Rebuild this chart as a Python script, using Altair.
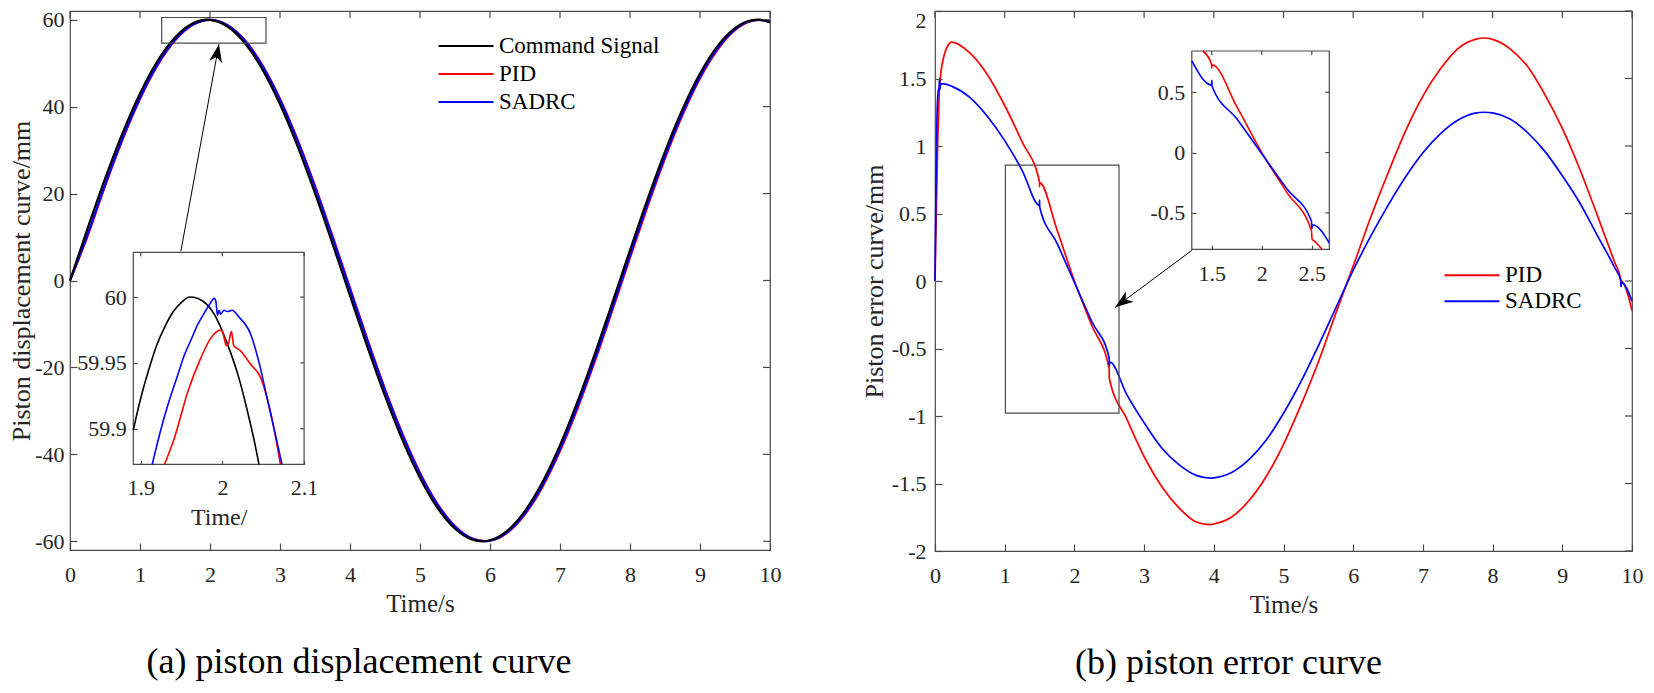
import altair as alt
import pandas as pd

FONT = "Liberation Serif"
INK = "#262626"
FRAME = "#4a4a4a"

# ---------------- (a) piston displacement : main view ----------------
SERIES_A = ["Command Signal", "PID", "SADRC"]
COLORS_A = ["#000000", "#ff0000", "#0000ff"]

CMD_T = [0, 0.25, 0.5, 0.75, 1.0, 1.25, 1.5, 1.75, 1.96, 2.0, 2.25, 2.5, 2.75, 3.0, 3.25, 3.5, 3.75, 4.0,
         4.25, 4.5, 4.75, 5.0, 5.25, 5.5, 5.75, 5.89, 6.0, 6.25, 6.5, 6.75, 7.0, 7.25, 7.5, 7.75, 8.0, 8.25,
         8.5, 8.75, 9.0, 9.25, 9.5, 9.75, 9.82, 10.0]
CMD_V = [0, 11.92, 23.37, 33.88, 43.04, 50.49, 55.92, 59.13, 60.0, 59.97, 58.43, 54.56, 48.51, 40.53, 30.93,
         20.10, 8.47, -3.50, -15.33, -26.55, -36.71, -45.41, -52.29, -57.10, -59.62, -60.0, -59.77, -57.54,
         -53.01, -46.37, -37.88, -27.88, -16.77, -4.99, 6.99, 18.69, 29.65, 39.42, 47.62, 53.92, 58.08, 59.91,
         60.0, 59.36]

PIDA_T = [0, 0.25, 0.5, 0.75, 1.0, 1.25, 1.5, 1.75, 2.0, 2.25, 2.5, 2.75, 3.0, 3.25, 3.5, 3.75, 4.0, 4.25,
          4.5, 4.75, 5.0, 5.25, 5.5, 5.75, 5.93, 6.0, 6.25, 6.5, 6.75, 7.0, 7.25, 7.5, 7.75, 8.0, 8.25, 8.5,
          8.75, 9.0, 9.25, 9.5, 9.75, 9.86, 10.0]
PIDA_V = [0, 10.15, 21.68, 32.35, 41.74, 49.46, 55.19, 58.75, 59.97, 58.76, 55.28, 49.53, 41.83, 32.45,
          21.78, 10.25, -1.70, -13.58, -24.92, -35.26, -44.20, -51.37, -56.50, -59.38, -59.96, -59.88,
          -58.01, -53.81, -47.48, -39.25, -29.45, -18.49, -6.78, 5.20, 16.97, 28.06, 38.04, 46.49, 53.09,
          57.59, 59.77, 59.96, 59.58]

SADA_T = [0, 0.25, 0.5, 0.75, 1.0, 1.25, 1.5, 1.75, 2.0, 2.25, 2.5, 2.75, 3.0, 3.25, 3.5, 3.75, 4.0, 4.25,
          4.5, 4.75, 5.0, 5.25, 5.5, 5.75, 5.92, 6.0, 6.25, 6.5, 6.75, 7.0, 7.25, 7.5, 7.75, 8.0, 8.25, 8.5,
          8.75, 9.0, 9.25, 9.5, 9.75, 9.85, 10.0]
SADA_V = [0, 10.48, 22.01, 32.66, 42.00, 49.67, 55.36, 58.85, 59.98, 58.73, 55.14, 49.34, 41.58, 32.17,
          21.46, 9.91, -2.04, -13.91, -25.22, -35.53, -44.43, -51.54, -56.62, -59.42, -59.98, -59.85,
          -57.87, -53.57, -47.14, -38.83, -28.97, -17.96, -6.23, 5.74, 17.49, 28.55, 38.46, 46.84, 53.34,
          57.74, 59.81, 59.98, 59.51]

# ---------------- (a) zoomed inset ----------------
ZA_CMD_T = [1.891, 1.90, 1.91, 1.92, 1.93, 1.94, 1.95, 1.96, 1.97, 1.98, 1.99, 2.00, 2.01, 2.02, 2.03, 2.04, 2.0448]
ZA_CMD_V = [59.899, 59.923, 59.945, 59.964, 59.978, 59.989, 59.996, 60.0, 59.999, 59.995, 59.987, 59.974,
            59.958, 59.939, 59.915, 59.888, 59.873]
ZA_PID_T = [1.9292, 1.9413, 1.9576, 1.9738, 1.986, 1.998, 2.001, 2.005, 2.008, 2.011, 2.014, 2.018, 2.0224,
            2.0345, 2.0467, 2.0588, 2.071]
ZA_PID_V = [59.873, 59.893, 59.928, 59.954, 59.969, 59.975, 59.972, 59.963, 59.966, 59.974, 59.963, 59.961,
            59.959, 59.949, 59.939, 59.913, 59.873]
ZA_SAD_T = [1.9142, 1.925, 1.9333, 1.945, 1.9535, 1.962, 1.9697, 1.978, 1.985, 1.99, 1.992, 1.994, 1.996,
            1.998, 2.002, 2.006, 2.012, 2.02, 2.0345, 2.045, 2.0548, 2.064, 2.073]
ZA_SAD_V = [59.873, 59.90, 59.918, 59.94, 59.956, 59.968, 59.979, 59.988, 59.995, 59.999, 59.997, 59.986,
            59.99, 59.987, 59.99, 59.989, 59.99, 59.985, 59.972, 59.95, 59.923, 59.898, 59.873]

# ---------------- (b) piston error : main view ----------------
SERIES_B = ["PID", "SADRC"]
COLORS_B = ["#ff0000", "#0000ff"]

PIDB_T = [0, 0.02, 0.04, 0.06, 0.08, 0.12, 0.17, 0.24, 0.5, 0.75, 1.0, 1.25, 1.499, 1.5, 1.501, 1.75, 2.0,
          2.25, 2.499, 2.501, 2.75, 3.0, 3.25, 3.5, 3.75, 3.95, 4.0, 4.25, 4.5, 4.75, 5.0, 5.25, 5.5, 5.75,
          6.0, 6.25, 6.5, 6.75, 7.0, 7.25, 7.5, 7.75, 7.88, 8.0, 8.25, 8.5, 8.75, 9.0, 9.25, 9.5, 9.75, 9.84,
          9.843, 9.846, 10.0]
PIDB_V = [0, 0.55, 1.05, 1.38, 1.52, 1.65, 1.73, 1.77, 1.69, 1.53, 1.30, 1.03, 0.735, 0.70, 0.728, 0.38,
          0.0, -0.33, -0.65, -0.72, -1.02, -1.30, -1.52, -1.68, -1.785, -1.805, -1.80, -1.75, -1.63, -1.45,
          -1.21, -0.92, -0.60, -0.24, 0.11, 0.47, 0.80, 1.11, 1.37, 1.57, 1.72, 1.79, 1.80, 1.79, 1.72, 1.59,
          1.38, 1.13, 0.83, 0.49, 0.14, 0.01, -0.04, 0.0, -0.22]

SADB_T = [0, 0.01, 0.02, 0.03, 0.045, 0.06, 0.065, 0.07, 0.08, 0.12, 0.25, 0.5, 0.75, 1.0, 1.25, 1.499,
          1.5, 1.501, 1.75, 2.0, 2.25, 2.499, 2.5, 2.51, 2.75, 3.0, 3.25, 3.5, 3.75, 3.95, 4.0, 4.25, 4.5,
          4.75, 5.0, 5.25, 5.5, 5.75, 6.0, 6.25, 6.5, 6.75, 7.0, 7.25, 7.5, 7.75, 7.88, 8.0, 8.25, 8.5, 8.75,
          9.0, 9.25, 9.5, 9.75, 9.84, 9.843, 9.846, 10.0]
SADB_V = [0, 0.5, 0.95, 1.25, 1.40, 1.44, 1.50, 1.42, 1.46, 1.46, 1.44, 1.36, 1.22, 1.04, 0.82, 0.56,
          0.60, 0.55, 0.28, -0.01, -0.30, -0.57, -0.63, -0.60, -0.84, -1.05, -1.235, -1.36, -1.44, -1.46,
          -1.458, -1.42, -1.325, -1.18, -0.98, -0.745, -0.48, -0.20, 0.08, 0.33, 0.56, 0.77, 0.95, 1.09,
          1.19, 1.243, 1.25, 1.245, 1.20, 1.10, 0.96, 0.78, 0.58, 0.34, 0.10, 0.0, -0.04, -0.01, -0.15]

# ---------------- (b) zoomed inset ----------------
ZB_PID_T = [1.41, 1.497, 1.5, 1.503, 1.75, 2.0, 2.25, 2.497, 2.503, 2.52, 2.60]
ZB_PID_V = [0.842, 0.735, 0.70, 0.728, 0.38, 0.0, -0.33, -0.65, -0.72, -0.73, -0.80]
ZB_SAD_T = [1.30, 1.497, 1.5, 1.503, 1.75, 2.0, 2.25, 2.497, 2.50, 2.51, 2.675]
ZB_SAD_V = [0.76, 0.56, 0.60, 0.55, 0.28, -0.01, -0.30, -0.57, -0.63, -0.60, -0.75]

# ---------------- axes ticks / annotation geometry (data units) ----------------
XTICKS = list(range(0, 11))
YTICKS_A = [-60, -40, -20, 0, 20, 40, 60]
YTICKS_B = [-2, -1.5, -1, -0.5, 0, 0.5, 1, 1.5, 2]
ZA_XTICKS = [1.9, 2.0, 2.1]
ZA_YTICKS = [59.9, 59.95, 60]
ZB_XTICKS = [1.5, 2.0, 2.5]
ZB_YTICKS = [-0.5, 0, 0.5]

XDOM = [0, 10]
YDOM_A = [-62, 62]
YDOM_B = [-2, 2]
ZA_XDOM = [1.891, 2.1]
ZA_YDOM = [59.873, 60.034]
ZB_XDOM = [1.3, 2.675]
ZB_YDOM = [-0.802, 0.842]

BOX_A = {"x1": [1.31], "x2": [2.80], "y1": [54.6], "y2": [60.5]}
BOX_B = {"x1": [1.01], "x2": [2.64], "y1": [-0.978], "y2": [0.859]}
ARROW_A = {"x1": [1.584], "y1": [6.76], "x2": [2.128], "y2": [54.34]}
ARROW_B = {"x1": [3.685], "y1": [0.227], "x2": [2.586], "y2": [-0.195]}
ANGLE_A = 10.5
ANGLE_B = 233.5

# ---------------- layout (pixels) ----------------
WA, HA = 700, 539
WB, HB = 697, 540
TICK = 7
ITICK = 4
IA_XR = [63.3, 234.1]
IA_YR = [453.3, 241.3]
IB_XR = [256.8, 394.3]
IB_YR = [238.3, 40.0]

HEAD = "M0,0L0.65,1.8L0,1.3L-0.65,1.8Z"
LEG_SYM = "M-5.5,0L5.5,0"
LBL = "'' + datum.value"


def series_df(t, v, name):
    return pd.DataFrame({"t": t, "v": v, "s": name})


def legend(x, y, rowpad):
    return alt.Legend(title=None, orient="none", legendX=x, legendY=y, symbolType=LEG_SYM,
                      symbolSize=100, symbolStrokeWidth=2, labelFont=FONT, labelFontSize=23,
                      labelColor="black", labelOffset=21.5, padding=0, rowPadding=rowpad, labelLimit=0)


def panel(W, H, xdom, ydom, yticks, ytitle, ylabpad, ytpad, ylaboff, lines, series, colors, leg,
          box, arrow, angle, ixdom, iydom, ixr, iyr, ixticks, iyticks, ixtitle, ilines, ilabpad, lw, ilw):
    sx = alt.Scale(domain=xdom, nice=False, zero=False)
    sy = alt.Scale(domain=ydom, nice=False, zero=False)
    cs = alt.Scale(domain=series, range=colors)
    xaxis = alt.Axis(values=XTICKS, title="Time/s", offset=-TICK, tickSize=TICK, labelPadding=14,
                     titlePadding=6, labelFontSize=22, titleFontSize=25, labelExpr=LBL,
                     labelFlush=False, labelOverlap=False, zindex=1, orient="bottom")
    yargs = dict(values=yticks, title=ytitle, offset=-TICK, tickSize=TICK, labelPadding=ylabpad,
                 titlePadding=ytpad, labelFontSize=22, titleFontSize=26, labelExpr=LBL,
                 labelFlush=False, labelOverlap=False, zindex=1, orient="left")
    if ylaboff is not None:
        yargs["labelOffset"] = ylaboff
    yaxis = alt.Axis(**yargs)

    X = lambda f: alt.X(f, type="quantitative", scale=sx, axis=xaxis)
    Y = lambda f: alt.Y(f, type="quantitative", scale=sy, axis=yaxis)

    layers = []
    for t, v, name in lines:
        layers.append(
            alt.Chart(series_df(t, v, name)).mark_line(strokeWidth=lw, interpolate="monotone").encode(
                x=X("t"), y=Y("v"), color=alt.Color("s:N", scale=cs, legend=leg))
        )
    layers.append(
        alt.Chart(pd.DataFrame(box)).mark_rect(filled=False, color=FRAME, strokeWidth=1.2).encode(
            x=X("x1"), x2="x2", y=Y("y1"), y2="y2")
    )
    layers.append(
        alt.Chart(pd.DataFrame(arrow)).mark_rule(color="black", strokeWidth=1).encode(
            x=X("x1"), x2="x2", y=Y("y1"), y2="y2")
    )
    layers.append(
        alt.Chart(pd.DataFrame(arrow)).mark_point(shape=HEAD, filled=True, size=400, angle=angle,
                                                  color="black", opacity=1, strokeWidth=0).encode(
            x=X("x2"), y=Y("y2"))
    )
    layers.append(
        alt.Chart(pd.DataFrame({"x1": XTICKS})).mark_rule(color=FRAME, strokeWidth=1.2).encode(
            x=X("x1"), y=alt.value(0), y2=alt.value(TICK))
    )
    layers.append(
        alt.Chart(pd.DataFrame({"y1": yticks})).mark_rule(color=FRAME, strokeWidth=1.2).encode(
            y=Y("y1"), x=alt.value(W), x2=alt.value(W - TICK))
    )
    main = alt.layer(*layers)

    # inset with its own scales placed by explicit pixel ranges
    isx = alt.Scale(domain=ixdom, range=ixr, nice=False, zero=False)
    isy = alt.Scale(domain=iydom, range=iyr, nice=False, zero=False)
    ixargs = dict(orient="bottom", values=ixticks, offset=-(H - iyr[0]) - ITICK, tickSize=ITICK,
                  labelPadding=ilabpad, labelFontSize=22, labelExpr=LBL, labelFlush=False,
                  labelOverlap=False, zindex=2, title=ixtitle)
    if ixtitle:
        ixargs.update(titlePadding=7, titleFontSize=24)
    ixaxis = alt.Axis(**ixargs)
    iyaxis = alt.Axis(orient="left", values=iyticks, offset=-ixr[0] - ITICK, tickSize=ITICK,
                      labelPadding=7, labelFontSize=22, labelExpr=LBL, labelFlush=False,
                      labelOverlap=False, zindex=2, title=None)
    IX = lambda f: alt.X(f, type="quantitative", scale=isx, axis=ixaxis)
    IY = lambda f: alt.Y(f, type="quantitative", scale=isy, axis=iyaxis)

    ilayers = [
        alt.Chart(pd.DataFrame({"x1": [ixdom[0]], "x2": [ixdom[1]], "y1": [iydom[0]], "y2": [iydom[1]]}))
        .mark_rect(fill="white", stroke=FRAME, strokeWidth=1.2).encode(
            x=IX("x1"), x2="x2", y=IY("y1"), y2="y2")
    ]
    for t, v, name in ilines:
        ilayers.append(
            alt.Chart(series_df(t, v, name)).mark_line(strokeWidth=ilw, interpolate="monotone").encode(
                x=IX("t"), y=IY("v"), color=alt.Color("s:N", scale=cs, legend=leg))
        )
    ilayers.append(
        alt.Chart(pd.DataFrame({"x1": ixticks})).mark_rule(color=FRAME, strokeWidth=1.2).encode(
            x=IX("x1"), y=alt.value(iyr[1]), y2=alt.value(iyr[1] + ITICK))
    )
    ilayers.append(
        alt.Chart(pd.DataFrame({"y1": iyticks})).mark_rule(color=FRAME, strokeWidth=1.2).encode(
            y=IY("y1"), x=alt.value(ixr[1]), x2=alt.value(ixr[1] - ITICK))
    )
    inset = alt.layer(*ilayers)
    return alt.layer(main, inset).resolve_scale(x="independent", y="independent").properties(width=W, height=H)


left = panel(
    WA, HA, XDOM, YDOM_A, YTICKS_A, "Piston displacement curve/mm", 6, 0, None,
    [(PIDA_T, PIDA_V, "PID"), (SADA_T, SADA_V, "SADRC"), (CMD_T, CMD_V, "Command Signal")],
    SERIES_A, COLORS_A, legend(384.5, 23.4, 4),
    BOX_A, ARROW_A, ANGLE_A, ZA_XDOM, ZA_YDOM, IA_XR, IA_YR, ZA_XTICKS, ZA_YTICKS, "Time/",
    [(ZA_CMD_T, ZA_CMD_V, "Command Signal"), (ZA_PID_T, ZA_PID_V, "PID"), (ZA_SAD_T, ZA_SAD_V, "SADRC")],
    13, 2.2, 1.6,
).properties(title=alt.TitleParams("(a) piston displacement curve", orient="bottom", anchor="middle",
                                   font=FONT, fontSize=36, fontWeight="normal", color="black",
                                   offset=29, dx=-61))

right = panel(
    WB, HB, XDOM, YDOM_B, YTICKS_B, "Piston error curve/mm", 9, 4,
    {"condition": {"test": "datum.value == 2", "value": 9}, "value": 0},
    [(PIDB_T, PIDB_V, "PID"), (SADB_T, SADB_V, "SADRC")],
    SERIES_B, COLORS_B, legend(525.5, 252.8, 2),
    BOX_B, ARROW_B, ANGLE_B, ZB_XDOM, ZB_YDOM, IB_XR, IB_YR, ZB_XTICKS, ZB_YTICKS, None,
    [(ZB_PID_T, ZB_PID_V, "PID"), (ZB_SAD_T, ZB_SAD_V, "SADRC")],
    14, 1.7, 1.6,
).properties(title=alt.TitleParams("(b) piston error curve", orient="bottom", anchor="middle",
                                   font=FONT, fontSize=36, fontWeight="normal", color="black",
                                   offset=29, dx=-55))

chart = (
    alt.hconcat(left, right, spacing=165, bounds="flush")
    .resolve_scale(color="independent")
    .properties(padding={"left": 0, "top": 0, "right": 0, "bottom": 0})
    .configure_view(stroke=FRAME, strokeWidth=1.2)
    .configure_axis(grid=False, domain=False, labelFont=FONT, titleFont=FONT, labelColor=INK,
                    titleColor=INK, tickColor=FRAME, tickWidth=1.2, titleFontWeight="normal")
)

chart.save("out.html", embed_options={"renderer": "svg", "actions": False})
